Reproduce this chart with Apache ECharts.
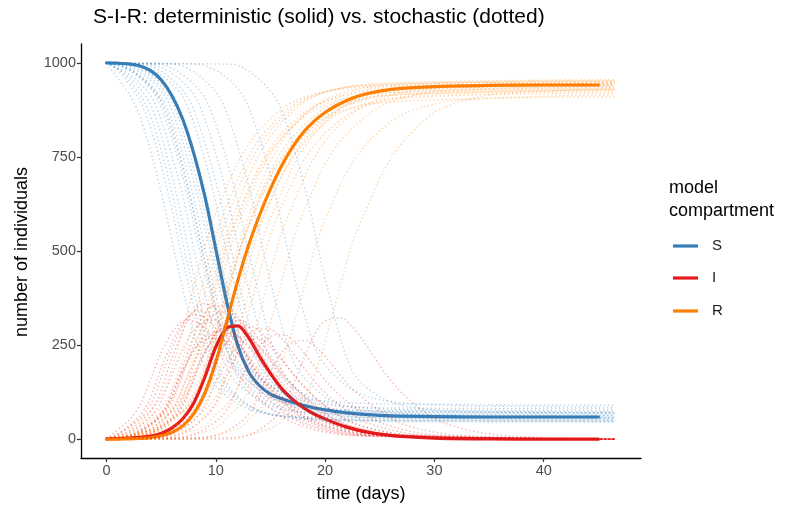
<!DOCTYPE html>
<html><head><meta charset="utf-8">
<script src="https://cdn.jsdelivr.net/npm/echarts@6/dist/echarts.min.js"></script>
<style>html,body{margin:0;padding:0;background:#fff}#c{width:791px;height:510px}</style>
</head><body><div id="c"></div>
<script>
// ---- deterministic model ----
const detT = [0,1,2,3,4,5,6,7,8,9,10,11,12,13,14,15,16,17,18,19,20,21,22,23,24,25,27,30,35,40,45];
const detS = [1000,999,997,992,980,955,912,848,758,645,505,365,250,180,142,120,108,98,90,83,78,73,70,67,65,63,61,60,59,59,59];
const detI = [1,1.6,2.7,4.6,8,15,30,55,97,165,245,295,301,270,220,175,135,106,84,67,54,42,32,24,18,13.5,7.5,3,0.6,0.1,0];
const detR = [0,0.3,0.8,1.8,4,9,18,36,68,122,205,312,420,515,595,665,725,775,815,845,868,886,900,911,919,925,932,937,940,941,941];

// ---- stochastic runs (estimated, one array per run) ----
const stochT = [
 [0,0.2,2.2,3.2,4.2,5.2,6.2,7.2,8.2,9.2,10.2,12.2,14.2,17.2,22.2,46.5],
 [0,0.9,2.9,3.9,4.9,5.9,6.9,7.9,8.9,9.9,10.9,12.9,14.9,17.9,22.9,46.5],
 [0,1.3,3.3,4.3,5.3,6.3,7.3,8.3,9.3,10.3,11.3,13.3,15.3,18.3,23.3,46.5],
 [0,1.8,3.8,4.8,5.8,6.8,7.8,8.8,9.8,10.8,11.8,13.8,15.8,18.8,23.8,46.5],
 [0,2,4,5,6,7,8,9,10,11,12,14,16,19,24,46.5],
 [0,0.3,2.3,4.3,5.3,6.3,7.3,8.3,9.3,10.3,11.3,12.3,14.3,16.3,19.3,24.3,46.5],
 [0,0.6,2.6,4.6,5.6,6.6,7.6,8.6,9.6,10.6,11.6,12.6,14.6,16.6,19.6,24.6,46.5],
 [0,1.0,3.0,5.0,6.0,7.0,8.0,9.0,10.0,11.0,12.0,13.0,15.0,17.0,20.0,25.0,46.5],
 [0,1.1,3.1,5.1,6.1,7.1,8.1,9.1,10.1,11.1,12.1,13.1,15.1,17.1,20.1,25.1,46.5],
 [0,1.3,3.3,5.3,6.3,7.3,8.3,9.3,10.3,11.3,12.3,13.3,15.3,17.3,20.3,25.3,46.5],
 [0,1.6,3.6,5.6,6.6,7.6,8.6,9.6,10.6,11.6,12.6,13.6,15.6,17.6,20.6,25.6,46.5],
 [0,2,4,6,7,8,9,10,11,12,13,14,16,18,21,26,46.5],
 [0,2.2,4.2,6.2,7.2,8.2,9.2,10.2,11.2,12.2,13.2,14.2,16.2,18.2,21.2,26.2,46.5],
 [0,2.8,4.8,6.8,7.8,8.8,9.8,10.8,11.8,12.8,13.8,14.8,16.8,18.8,21.8,26.8,46.5],
 [0,3.4,5.4,7.4,8.4,9.4,10.4,11.4,12.4,13.4,14.4,15.4,17.4,19.4,22.4,27.4,46.5],
 [0,3.9,5.9,7.9,8.9,9.9,10.9,11.9,12.9,13.9,14.9,15.9,17.9,19.9,22.9,27.9,46.5],
 [0,4.9,6.9,8.9,9.9,10.9,11.9,12.9,13.9,14.9,15.9,16.9,18.9,20.9,23.9,28.9,46.5],
 [0,6.2,8.2,10.2,11.2,12.2,13.2,14.2,15.2,16.2,17.2,18.2,20.2,22.2,25.2,30.2,46.5],
 [0,8.3,10.3,12.3,13.3,14.3,15.3,16.3,17.3,18.3,19.3,20.3,22.3,24.3,27.3,32.3,46.5],
 [0,11.5,13.5,15.5,16.5,17.5,18.5,19.5,20.5,21.5,22.5,23.5,25.5,27.5,30.5,35.5,46.5]
];
const stochS = [
 [999,990,912,845,748,632,500,372,260,180,135,90,70,60,57,55],
 [999,985,908,840,740,622,488,362,250,172,130,86,66,56,52,50],
 [999,978,905,835,735,615,480,355,245,170,128,85,66,55,50,48],
 [999,970,902,828,722,600,462,335,228,158,118,78,60,50,47,45],
 [999,972,915,850,752,645,505,385,268,188,148,104,80,70,64,62],
 [999,999,976,922,858,768,662,530,412,300,218,175,122,96,80,72,68],
 [999,997,974,918,850,758,650,520,400,282,200,156,104,80,65,58,55],
 [999,996,964,900,828,725,602,470,342,235,165,125,82,62,53,50,48],
 [999,996,966,905,838,742,625,495,370,262,190,152,110,92,80,75,72],
 [999,996,970,915,850,758,652,525,408,296,222,182,135,112,100,94,90],
 [999,995,972,915,852,760,648,515,398,282,198,155,104,82,68,61,58],
 [999,996,970,912,846,752,644,512,392,280,202,160,112,92,80,74,70],
 [999,996,968,908,840,748,640,505,385,275,200,162,120,100,88,83,80],
 [999,995,972,918,855,762,655,520,400,290,205,162,110,88,74,68,65],
 [999,996,970,910,842,748,640,505,382,265,185,145,96,74,60,55,52],
 [999,996,974,920,858,768,662,530,410,300,218,175,122,98,85,78,75],
 [999,996,970,912,845,752,645,510,390,275,192,150,100,78,65,60,58],
 [999,996,972,915,852,760,652,518,395,285,200,160,108,86,72,65,62],
 [999,996,975,922,860,772,668,538,418,310,228,186,135,110,96,89,85],
 [999,996,968,905,835,738,625,490,368,258,180,145,105,88,76,72,70]
];
const stochI = [
 [1,6,55,98,172,242,292,315,312,288,250,165,102,42,10,0],
 [1,10,58,102,180,252,305,330,325,298,258,168,104,42,10,0],
 [1,17,62,108,188,262,318,342,335,305,262,170,104,42,10,0],
 [1,18,66,115,200,275,335,360,352,318,272,175,106,42,10,0],
 [1,16,58,100,172,240,292,312,316,292,255,170,108,46,12,0],
 [1,1,13,48,82,145,202,248,268,270,250,218,146,94,40,10,0],
 [1,3,15,52,88,155,215,262,282,288,268,235,158,100,42,11,0],
 [1,4,19,66,114,196,275,335,355,352,325,282,180,110,45,11,0],
 [1,4,18,62,106,182,255,312,335,338,315,275,185,118,50,13,0],
 [1,4,15,54,92,160,222,268,285,288,265,232,157,100,42,11,0],
 [1,4,14,50,86,150,210,258,275,280,260,228,152,97,42,11,0],
 [1,4,15,55,95,165,232,280,300,302,280,245,166,106,46,12,0],
 [1,4,17,58,100,172,240,292,312,315,292,255,172,110,48,12,0],
 [1,4,14,48,84,148,205,250,270,272,252,220,148,95,40,10,0],
 [1,4,15,55,95,162,228,275,295,298,275,240,162,102,44,12,0],
 [1,4,13,48,82,145,200,245,265,268,248,215,145,92,40,10,0],
 [1,4,15,54,92,160,225,272,292,292,272,236,158,100,43,11,0],
 [1,4,15,52,86,150,208,255,275,278,258,225,150,96,42,11,0],
 [1,4,13,46,80,140,195,240,260,262,242,210,140,90,38,10,0],
 [1,4,17,60,102,176,245,300,320,322,298,262,175,110,48,12,0]
];
const stochR = [
 [0,4,33,57,80,126,208,313,428,532,615,745,828,898,933,945],
 [0,5,34,58,80,126,207,308,425,530,612,746,830,902,938,950],
 [0,5,33,57,77,123,202,303,420,525,610,745,830,903,940,952],
 [0,4,32,57,78,125,203,305,420,524,610,747,834,908,943,955],
 [0,4,27,50,76,115,203,303,416,520,597,726,812,884,924,938],
 [0,0,11,30,60,87,136,222,320,430,532,607,732,810,880,918,932],
 [0,0,11,30,62,87,135,218,318,430,532,609,738,820,893,931,945],
 [0,0,17,34,58,79,123,195,303,413,510,593,738,828,902,939,952],
 [0,0,16,33,56,76,120,193,295,400,495,573,705,790,870,912,928],
 [0,0,15,31,58,82,126,207,307,416,513,586,708,788,858,895,910],
 [0,1,14,35,62,90,142,227,327,438,542,617,744,821,890,928,942],
 [0,0,15,33,59,83,124,208,308,418,518,595,722,802,874,914,930],
 [0,0,15,34,60,80,120,203,303,410,508,583,708,790,864,905,920],
 [0,1,14,34,61,90,140,230,330,438,543,618,742,817,886,922,935],
 [0,0,15,35,63,90,132,220,323,437,540,615,742,824,896,933,948],
 [0,0,13,32,60,87,138,225,325,432,534,610,733,810,875,912,925],
 [0,0,15,34,63,88,130,218,318,433,536,614,742,822,892,929,942],
 [0,0,13,33,62,90,140,227,330,437,542,615,742,818,886,924,938],
 [0,0,12,32,60,88,137,222,322,428,530,604,725,800,866,901,915],
 [0,0,15,35,63,86,130,210,312,420,522,593,720,802,876,916,930]
];

const xTicks = [0,10,20,30,40];
const yTicks = [0,250,500,750,1000];
const compartments = ['S','I','R'];
const colors = {S:'#377EB8', I:'#E41A1C', R:'#FF7F00'};

const FONT = '"Liberation Sans", Arial, Helvetica, sans-serif';
const zip = (t, v) => t.map((x, i) => [x, v[i]]);

const series = [];
const det = {S: detS, I: detI, R: detR};
compartments.forEach(k => {
  series.push({
    type: 'line', name: k, data: zip(detT, det[k]), showSymbol: false,
    smooth: 0.3, z: 2, silent: true,
    lineStyle: {color: colors[k], width: 3.2, cap: 'round', join: 'round'}
  });
});
const stoch = {S: stochS, I: stochI, R: stochR};
compartments.forEach(k => {
  stoch[k].forEach((run, r) => {
    series.push({
      type: 'line', name: k + '_run' + r, data: zip(stochT[r], run), showSymbol: false,
      smooth: 0.3, z: 3, silent: true,
      lineStyle: {color: colors[k], width: 1.4, type: [1.4, 2.6], opacity: 0.33}
    });
  });
});

const legendY = {S: 246, I: 278, R: 311};
const graphics = [
  {type:'text', x: 22, y: 252, rotation: Math.PI/2, style:{text:'number of individuals', font:'18px '+FONT, fill:'#000', align:'center', verticalAlign:'middle'}},
  {type:'text', x: 361, y: 494, style:{text:'time (days)', font:'18px '+FONT, fill:'#000', align:'center', verticalAlign:'middle'}},
  {type:'text', x: 669, y: 188, style:{text:'model', font:'18px '+FONT, fill:'#000', align:'left', verticalAlign:'middle'}},
  {type:'text', x: 669, y: 211, style:{text:'compartment', font:'18px '+FONT, fill:'#000', align:'left', verticalAlign:'middle'}}
];
compartments.forEach(k => {
  graphics.push({type:'line', shape:{x1:673, y1:legendY[k], x2:698, y2:legendY[k]}, style:{stroke: colors[k], lineWidth: 3.2}});
  graphics.push({type:'text', x: 712, y: legendY[k], style:{text:k, font:'15px '+FONT, fill:'#1a1a1a', align:'left', verticalAlign:'middle'}});
});

const chart = echarts.init(document.getElementById('c'), null, {renderer:'canvas'});
chart.setOption({
  animation: false,
  backgroundColor: '#fff',
  title: {text: 'S-I-R: deterministic (solid) vs. stochastic (dotted)', left: 93, top: 7, padding: 0,
    textStyle: {fontFamily: FONT, fontSize: 21, fontWeight: 'normal', color: '#000'}},
  grid: {left: 81, top: 44, width: 560, height: 414, containLabel: false},
  xAxis: {type: 'value', min: -2.33, max: 48.9,
    axisLine: {show: true, onZero: false, lineStyle: {color: '#000', width: 1.3}},
    axisTick: {show: true, length: 4, customValues: xTicks, lineStyle: {color: '#333', width: 1.2}},
    axisLabel: {customValues: xTicks, color: '#4d4d4d', fontSize: 14.5, fontFamily: FONT, margin: 5, formatter: v => String(v)},
    splitLine: {show: false}},
  yAxis: {type: 'value', min: -50, max: 1050,
    axisLine: {show: true, onZero: false, lineStyle: {color: '#000', width: 1.3}},
    axisTick: {show: true, length: 4, customValues: yTicks, lineStyle: {color: '#333', width: 1.2}},
    axisLabel: {customValues: yTicks, color: '#4d4d4d', fontSize: 14.5, fontFamily: FONT, margin: 5, formatter: v => String(v)},
    splitLine: {show: false}},
  graphic: graphics,
  series: series
});
</script></body></html>
